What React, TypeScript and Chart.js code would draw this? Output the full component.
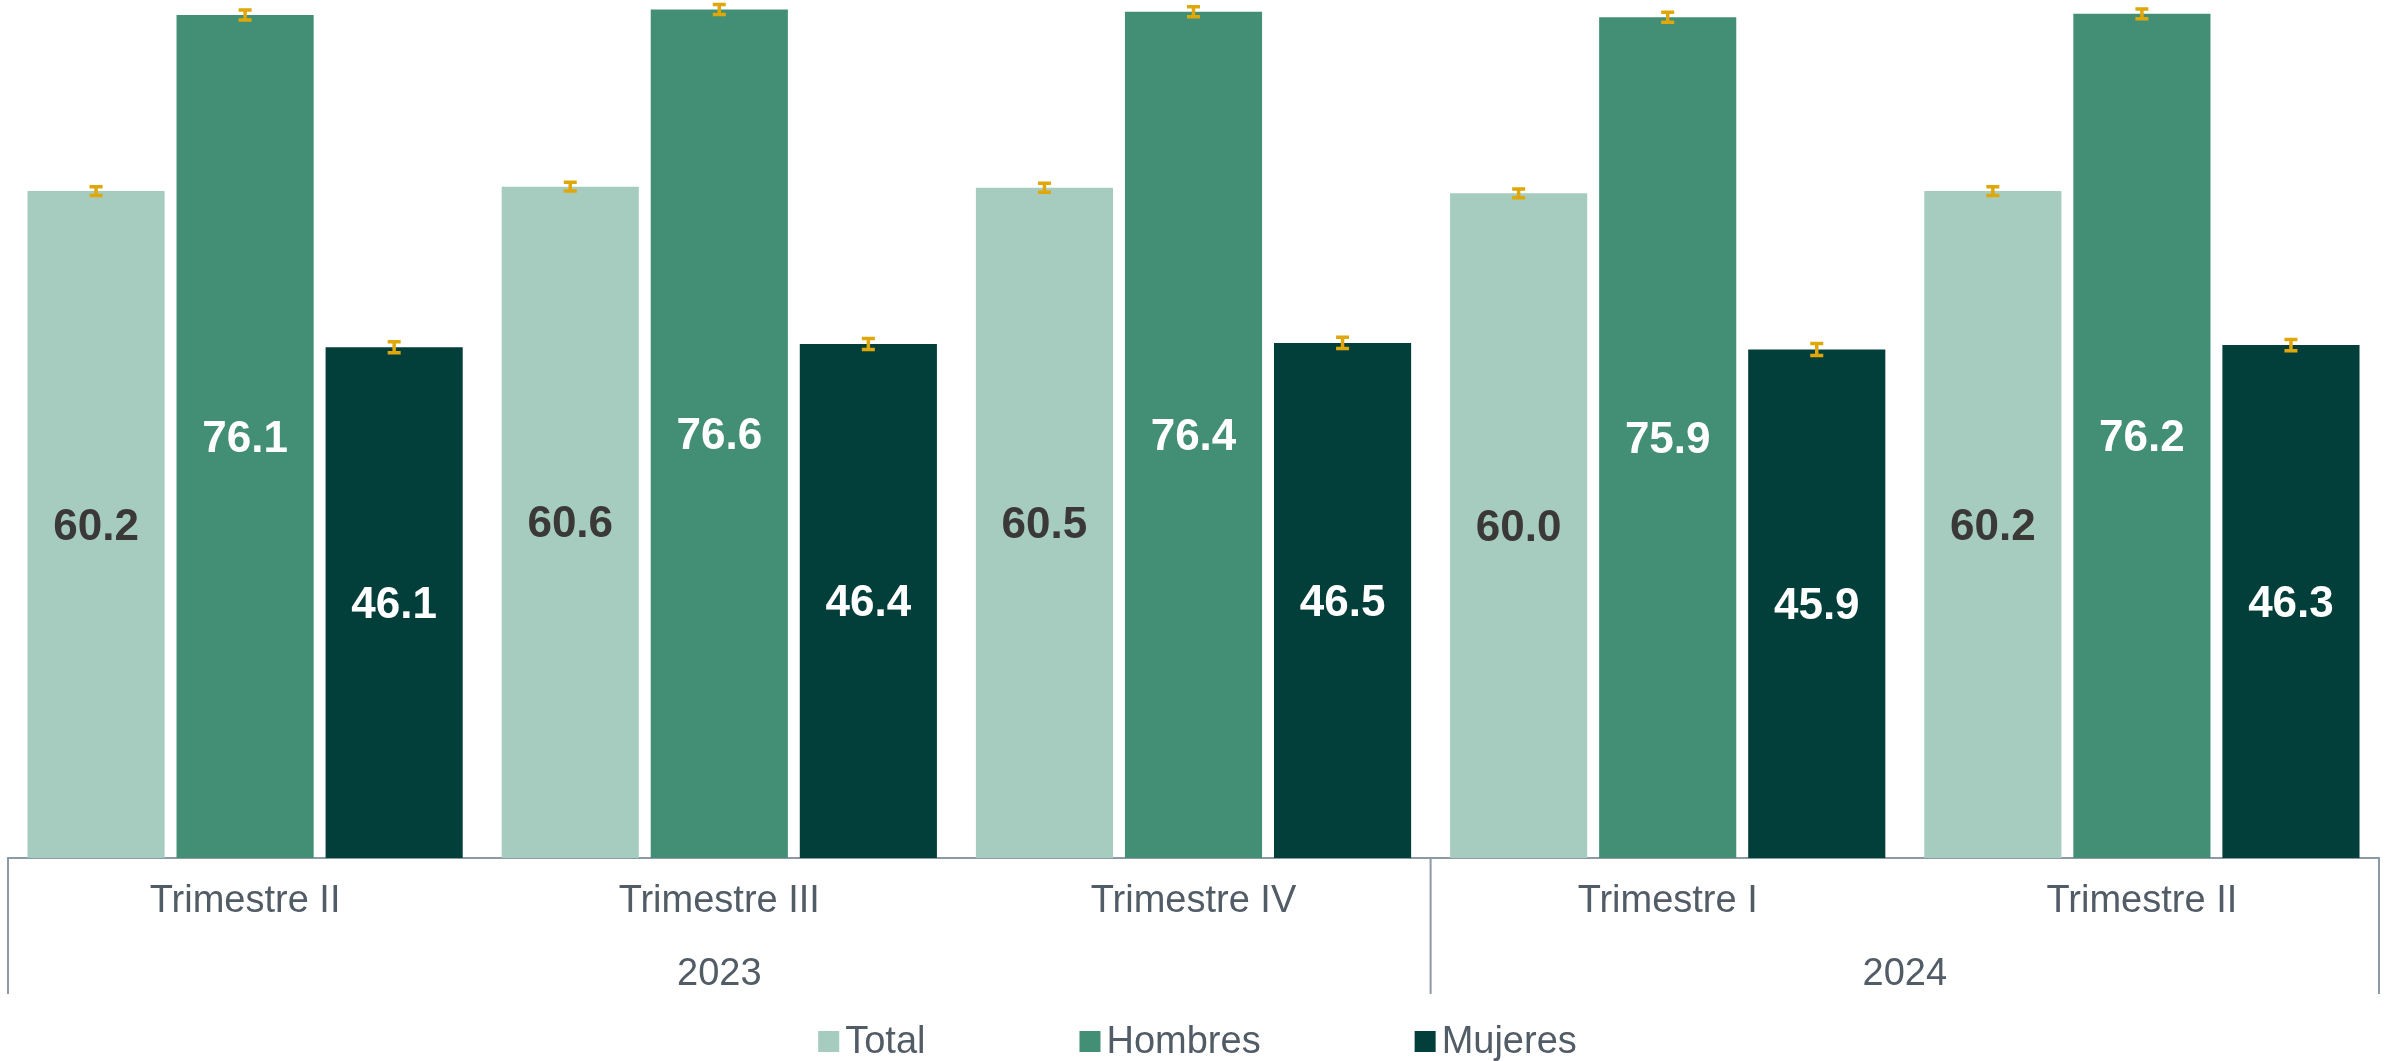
import React, { useEffect, useRef } from "react";
import { Chart, registerables } from "chart.js";

Chart.register(...registerables);

const categories = ["Trimestre II", "Trimestre III", "Trimestre IV", "Trimestre I", "Trimestre II"];
const years = ["2023", "2024"];
const yearSpans = [3, 2];
const seriesNames = ["Total", "Hombres", "Mujeres"];
const totalValues = [60.2, 60.6, 60.5, 60.0, 60.2];
const hombresValues = [76.1, 76.6, 76.4, 75.9, 76.2];
const mujeresValues = [46.1, 46.4, 46.5, 45.9, 46.3];
const totalErrors = [0.4, 0.4, 0.4, 0.4, 0.4];
const hombresErrors = [0.45, 0.45, 0.45, 0.45, 0.45];
const mujeresErrors = [0.5, 0.5, 0.5, 0.55, 0.5];

const colors = ["#A5CCBF", "#428F75", "#033F3A"];
const labelColors = ["#3B3838", "#FFFFFF", "#FFFFFF"];
const FONT = "'Liberation Sans', Arial, sans-serif";
const TEXT_GRAY = "#525C66";
const AXIS_GRAY = "#8C9AA5";
const ERR_COLOR = "#E0A70A";

const errors = [totalErrors, hombresErrors, mujeresErrors];

const overlayPlugin = {
  id: "overlay",
  afterDatasetsDraw(chart: any) {
    const ctx = chart.ctx;
    const yScale = chart.scales.y;
    chart.data.datasets.forEach((ds: any, di: number) => {
      const meta = chart.getDatasetMeta(di);
      meta.data.forEach((bar: any, i: number) => {
        const v = ds.data[i];
        ctx.save();
        ctx.font = `bold 44px ${FONT}`;
        ctx.fillStyle = labelColors[di];
        ctx.textAlign = "center";
        ctx.textBaseline = "middle";
        ctx.fillText(v.toFixed(1), bar.x, (bar.y + bar.base) / 2 + 3);
        ctx.restore();
        const e = errors[di][i];
        const yTop = yScale.getPixelForValue(v + e);
        const yBot = yScale.getPixelForValue(v - e);
        ctx.save();
        ctx.strokeStyle = ERR_COLOR;
        ctx.lineWidth = 3.5;
        ctx.beginPath();
        ctx.moveTo(bar.x, yTop);
        ctx.lineTo(bar.x, yBot);
        ctx.moveTo(bar.x - 6.5, yTop);
        ctx.lineTo(bar.x + 6.5, yTop);
        ctx.moveTo(bar.x - 6.5, yBot);
        ctx.lineTo(bar.x + 6.5, yBot);
        ctx.stroke();
        ctx.restore();
      });
    });
  },
  afterDraw(chart: any) {
    const ctx = chart.ctx;
    const xScale = chart.scales.x;
    const area = chart.chartArea;
    const n = categories.length;
    const step = xScale.getPixelForValue(1) - xScale.getPixelForValue(0);
    const bounds: number[] = [area.left];
    let idx = 0;
    yearSpans.forEach((s) => {
      idx += s;
      const px = idx >= n ? area.right : xScale.getPixelForValue(idx) - step / 2;
      bounds.push(px);
    });
    ctx.save();
    ctx.strokeStyle = AXIS_GRAY;
    ctx.lineWidth = 2;
    ctx.beginPath();
    bounds.forEach((b) => {
      ctx.moveTo(b, area.bottom);
      ctx.lineTo(b, 994);
    });
    ctx.stroke();
    ctx.font = `38px ${FONT}`;
    ctx.fillStyle = TEXT_GRAY;
    ctx.textAlign = "center";
    ctx.textBaseline = "alphabetic";
    years.forEach((y, i) => {
      ctx.fillText(y, (bounds[i] + bounds[i + 1]) / 2, 985);
    });
    ctx.restore();

    ctx.save();
    ctx.font = `38px ${FONT}`;
    const box = 21;
    const gapBoxText = 6;
    const gapItems = 154;
    const widths = seriesNames.map((s) => ctx.measureText(s).width);
    let total = 0;
    widths.forEach((w, i) => {
      total += box + gapBoxText + w + (i < widths.length - 1 ? gapItems : 0);
    });
    let x = chart.width / 2 - total / 2;
    const boxTop = 1031;
    seriesNames.forEach((s, i) => {
      ctx.fillStyle = colors[i];
      ctx.fillRect(x, boxTop, box, box);
      ctx.fillStyle = TEXT_GRAY;
      ctx.textAlign = "left";
      ctx.textBaseline = "alphabetic";
      ctx.fillText(s, x + box + gapBoxText, 1053);
      x += box + gapBoxText + widths[i] + gapItems;
    });
    ctx.restore();
  },
};

export default function App() {
  const ref = useRef<HTMLCanvasElement | null>(null);
  useEffect(() => {
    if (!ref.current) return;
    const chart = new Chart(ref.current, {
      type: "bar",
      data: {
        labels: categories,
        datasets: [
          { label: seriesNames[0], data: totalValues, backgroundColor: colors[0] },
          { label: seriesNames[1], data: hombresValues, backgroundColor: colors[1] },
          { label: seriesNames[2], data: mujeresValues, backgroundColor: colors[2] },
        ],
      },
      options: {
        animation: false,
        responsive: true,
        maintainAspectRatio: false,
        datasets: { bar: { categoryPercentage: 0.943, barPercentage: 0.92 } },
        layout: { padding: { left: 8, right: 16, top: 5, bottom: 0 } },
        plugins: { legend: { display: false }, tooltip: { enabled: false } },
        scales: {
          y: { display: false, min: 0, max: 77 },
          x: {
            grid: { display: true, drawOnChartArea: false, drawTicks: false },
            border: { display: true, color: AXIS_GRAY, width: 2 },
            ticks: { color: TEXT_GRAY, font: { family: FONT, size: 38 }, padding: 21, maxRotation: 0 },
            afterFit: (scale: any) => {
              scale.height = 203;
            },
          },
        },
      },
      plugins: [overlayPlugin],
    });
    return () => chart.destroy();
  }, []);
  return (
    <div style={{ position: "fixed", left: 0, top: 0, width: 2395, height: 1061, background: "#fff" }}>
      <canvas ref={ref} />
    </div>
  );
}
